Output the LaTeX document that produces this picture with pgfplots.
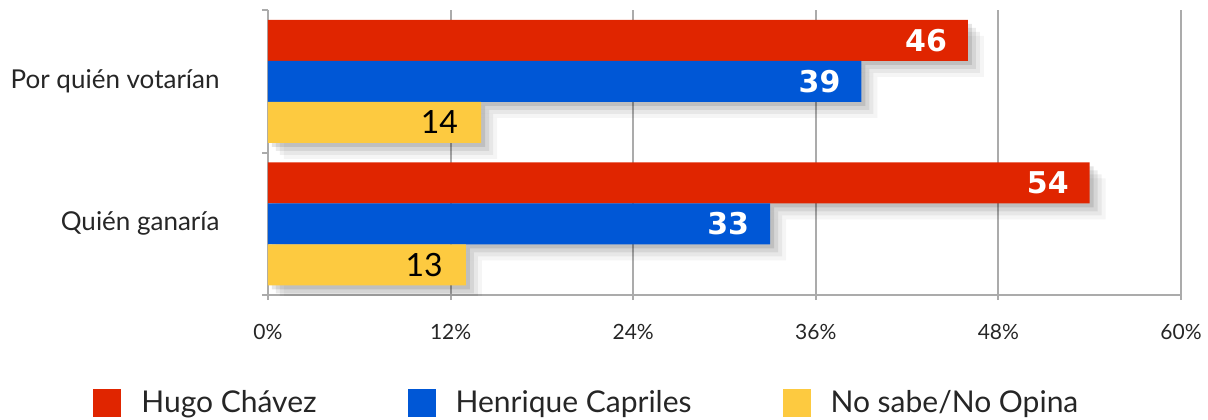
\documentclass[border=0pt]{standalone}
\usepackage{pgfplots}
\pgfplotsset{compat=1.18}
\usepackage{pgfplotstable}
\usepackage{fontspec}
\setmainfont{Lato}
\newfontfamily\numfont{DejaVu Sans}
\definecolor{hred}{HTML}{E02500}
\definecolor{hblue}{HTML}{0057D6}
\definecolor{hyel}{HTML}{FDCA40}
\definecolor{gridg}{HTML}{ABABAB}
\tikzset{barlab/.style={anchor=east, xshift=-7pt, text=white, font=\numfont\bfseries\fontsize{15}{18}\selectfont}}
\pgfplotstableread{
y hugo henrique nosabe
0 54 33 13
1 46 39 14
}\datatab
\begin{document}
\begin{tikzpicture}
\useasboundingbox (-134pt,-62pt) rectangle (470pt,147.5pt);
\begin{axis}[
  at={(0,0)}, anchor=south west,
  scale only axis, width=456.5pt, height=142.5pt,
  xbar, bar width=20.5pt,
  xmin=0, xmax=60, ymin=-0.5, ymax=1.5,
  xtick={0,12,24,36,48,60},
  xticklabel={\pgfmathprintnumber{\tick}\%},
  /pgf/number format/assume math mode=true,
  ytick={0,1}, yticklabels={Quién ganaría, Por quién votarían},
  minor ytick={-0.5,0.5,1.5},
  axis x line*=bottom, axis y line*=left,
  axis line style={gridg, line width=1pt},
  tick align=outside,
  major tick length=2.5pt, minor tick length=3pt,
  tick style={gridg, line width=1pt},
  every major y tick/.append style={draw=none},
  xmajorgrids, major grid style={gridg, line width=1pt},
  xticklabel style={font=\fontsize{10.5}{12}\selectfont, text=black!85, inner sep=0pt, yshift=-12pt},
  yticklabel style={font=\fontsize{13}{15}\selectfont, text=black!85, inner sep=0pt, xshift=-21.5pt},
  legend columns=3,
  legend style={at={(-0.1917,-0.379)}, anchor=west, draw=none, fill=none, inner sep=0pt,
    font=\fontsize{15}{18}\selectfont, text=black!85,
    /tikz/every odd column/.append style={column sep=8pt},
    /tikz/every even column/.append style={column sep=43.5pt}},
  legend image code/.code={\fill[#1] (0pt,-7pt) rectangle (14pt,7pt);},
  shadowA/.style={forget plot, draw=none, fill=black, fill opacity=0.10, xshift=2pt, yshift=-2pt},
  shadowB/.style={forget plot, draw=none, fill=black, fill opacity=0.08, xshift=4pt, yshift=-4pt},
  shadowC/.style={forget plot, draw=none, fill=black, fill opacity=0.06, xshift=6pt, yshift=-6pt},
  shadowD/.style={forget plot, draw=none, fill=black, fill opacity=0.04, xshift=8pt, yshift=-8pt},
]
\addlegendimage{fill=hred, draw=none}
\addlegendentry{Hugo Chávez}
\addlegendimage{fill=hblue, draw=none}
\addlegendentry{Henrique Capriles}
\addlegendimage{fill=hyel, draw=none}
\addlegendentry{No sabe/No Opina}

% soft shadows
\addplot[shadowD, bar shift=20.5pt] table[x=hugo, y=y] {\datatab};
\addplot[shadowD, bar shift=0pt] table[x=henrique, y=y] {\datatab};
\addplot[shadowD, bar shift=-20.5pt] table[x=nosabe, y=y] {\datatab};
\addplot[shadowC, bar shift=20.5pt] table[x=hugo, y=y] {\datatab};
\addplot[shadowC, bar shift=0pt] table[x=henrique, y=y] {\datatab};
\addplot[shadowC, bar shift=-20.5pt] table[x=nosabe, y=y] {\datatab};
\addplot[shadowB, bar shift=20.5pt] table[x=hugo, y=y] {\datatab};
\addplot[shadowB, bar shift=0pt] table[x=henrique, y=y] {\datatab};
\addplot[shadowB, bar shift=-20.5pt] table[x=nosabe, y=y] {\datatab};
\addplot[shadowA, bar shift=20.5pt] table[x=hugo, y=y] {\datatab};
\addplot[shadowA, bar shift=0pt] table[x=henrique, y=y] {\datatab};
\addplot[shadowA, bar shift=-20.5pt] table[x=nosabe, y=y] {\datatab};

\addplot[forget plot, fill=hred, draw=none, bar shift=20.5pt,
  nodes near coords, nodes near coords style={barlab}]
  table[x=hugo, y=y] {\datatab};
\addplot[forget plot, fill=hblue, draw=none, bar shift=0pt,
  nodes near coords, nodes near coords style={barlab}]
  table[x=henrique, y=y] {\datatab};
\addplot[forget plot, fill=hyel, draw=none, bar shift=-20.5pt,
  nodes near coords,
  nodes near coords style={anchor=east, xshift=-8pt, text=black, font=\fontsize{16}{18}\selectfont}]
  table[x=nosabe, y=y] {\datatab};
\end{axis}
\end{tikzpicture}
\end{document}
